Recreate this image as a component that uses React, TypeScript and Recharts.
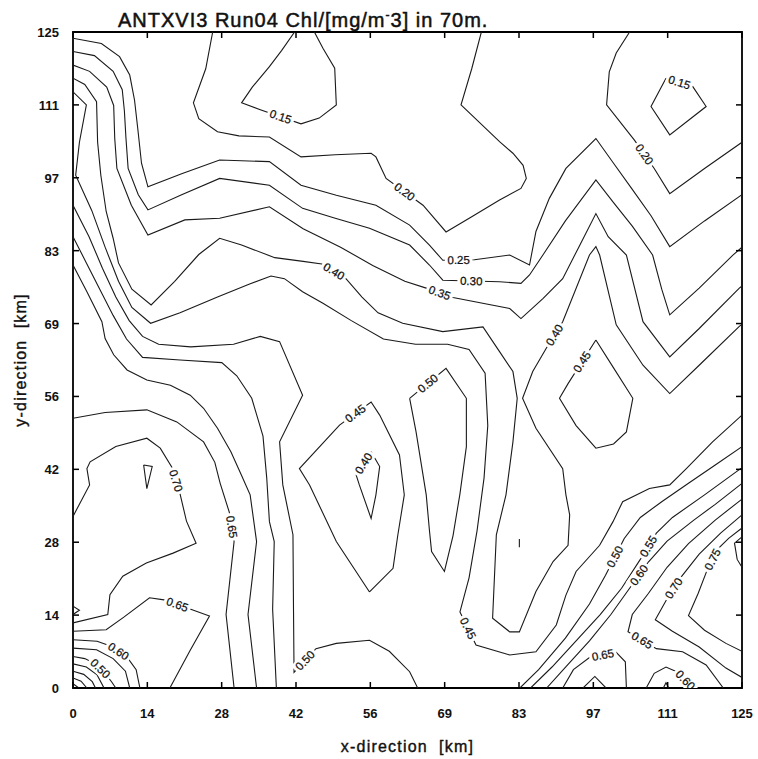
import React from 'react';
import { ScatterChart, Scatter, XAxis, YAxis, ReferenceArea } from 'recharts';

type Pt = [number, number];

const TICK_LABELS = ['0', '14', '28', '42', '56', '69', '83', '97', '111', '125'];
const TICK_VALUES = TICK_LABELS.map((_, i) => (i * 125) / 9);

// contour polylines, [x km, y km]
const C015_TOP: Pt[] = [[41.4,125],[39,121.5],[36.7,118.4],[33.5,114.5],[31.5,111.5],[35,110.2],[42.6,107.5],[46,108.6],[49.2,111.1],[48.9,118.1],[46.7,121.9],[45.1,125]];
const C015_RIGHT: Pt[] = [[110.8,116.2],[115.8,114.6],[118.3,110.8],[111.5,105.4],[108,110.8],[110.8,116.2]];
const C020_MAIN: Pt[] = [[26.1,125],[24.8,118],[22.5,111.5],[23.5,108.5],[27,106],[31,105.2],[36.7,105],[42.6,101.2],[49,101.6],[55.7,101.9],[56.6,101.2],[58.5,97.1],[65.4,92],[69.7,86.9],[74.5,89.8],[79.7,93],[83.7,95.2],[84.7,97.1],[84.1,99.6],[82.2,101.9],[79.7,104.1],[72.5,111.1],[74.5,118],[76.3,125]];
const C020_RIGHT: Pt[] = [[104,125],[101.5,121],[100.2,117.4],[99.7,111.1],[104.9,104.4],[108.6,99],[111.5,94.2],[118,99],[125,104]];
const C025: Pt[] = [[0,123.8],[5.3,122.8],[8.7,120.3],[10.6,116.8],[11.5,112],[12.1,106.6],[12.8,100],[13.6,97],[14,95.5],[20.3,98],[27.4,100.6],[36.7,100.3],[42.6,95.8],[49.2,93.9],[56.6,92],[62.9,88.2],[66.6,84.4],[69.1,81.5],[75,81.6],[81.6,82.5],[85.3,80.6],[86.5,87],[89,93.3],[92.1,99],[97.7,104.7],[101,100],[104.5,95],[108,90],[111.5,84.1],[118,89],[125,94]];
const C030: Pt[] = [[0,121.3],[4,120.5],[7.5,117.5],[9.2,114],[9.6,110],[9.9,104.7],[10.3,99],[12.2,94],[14,91.1],[20.3,94],[27.4,97.1],[36.7,95.8],[42.9,91.4],[49,89.5],[55.4,87.6],[62.9,84.4],[66.6,80.6],[69.1,77.7],[79.7,77.4],[83.7,77.1],[85.3,78.7],[87.8,82.5],[92,89],[97.7,96.8],[101,92.5],[104.5,88],[108.3,82.5],[110,76],[111.5,71.1],[117,76.2],[123.3,82.5],[125,84]];
const C035: Pt[] = [[0,118.7],[3.1,117.5],[6.3,114.5],[7.6,111],[7.8,104.7],[8.2,99],[10.9,92],[14,86.3],[20.9,89.2],[27.4,89.5],[36.7,91.7],[43,87.5],[50,84],[56,80.5],[62,77.5],[66,76.2],[71,74.4],[81.6,72.3],[83.7,70.4],[87.8,74.2],[91.5,78],[94.5,84],[97.7,90.4],[100,86],[103.4,82.5],[106.5,69.8],[111.5,63.1],[117,68.5],[124.5,76.2],[125,76.6]];
const C040: Pt[] = [[0,116.2],[2.2,115],[4.4,111.7],[4.6,104],[5.2,97.7],[6.2,90.8],[7.5,85.7],[8.5,81],[11,76],[14.6,73],[19,77.5],[23.5,82.6],[27.4,85.7],[31.5,84.4],[37.7,82],[43,81.3],[46.5,80.8],[51,78],[54,74.5],[57,71.5],[61.6,69.5],[69.1,67.9],[76.6,68.8],[79.7,64.1],[82.2,60.3],[83,55.2],[82.2,46.9],[80.9,36.8],[79.1,29.2],[78.4,13.3],[81.6,10.7],[83.4,10.7],[86.5,18.4],[89.7,24.1],[92.5,27.2],[92.8,33],[92.1,36.8],[91.5,41.8],[86.5,49.5],[84,55.2],[85.9,60.3],[88.4,64.7],[91.5,69.8],[96.5,82.5],[97.7,84.1],[98.4,82.5],[101.5,69.2],[106.5,61.5],[111.5,56.1],[117,61.5],[124.5,68.9],[125,69.3]];
const C040_SMALL: Pt[] = [[55.7,45],[57.3,42.2],[56.6,36.8],[55.7,32.3],[53.5,38.7],[52.9,40.6],[55.7,45]];
const C045_LONG: Pt[] = [[0,113.6],[2.5,111.1],[1.2,104],[0.5,97.7],[3.5,91],[6,84],[8.5,77.5],[11,72.5],[14.5,69.5],[20,71.5],[27,74.5],[33,77],[37,78.5],[39.5,78],[42.9,75.5],[46.7,73.3],[52,70],[58,66.5],[64,65.5],[70,65.5],[74,64.5],[77,60],[77.5,50],[76.8,40],[75.5,30],[74,21],[72.3,14.5],[75.3,8.2],[81.6,6.3],[86.5,6.9],[90.3,12],[92.1,17.7],[94,22.2],[98.4,27.2],[100.9,31.7],[102.7,35.5],[107.7,38],[111.5,38.7],[114.6,41.8],[119.5,46.9],[125,52]];
const C045_MID: Pt[] = [[55.4,18.3],[49.2,27.9],[44.2,38.7],[42.3,41.8],[49.8,50.1],[55.7,54.5],[57.3,52],[61,44.4],[61.9,36.8],[60.7,29.2],[59.8,22.8],[55.4,18.3]];
const C045_RIGHT: Pt[] = [[97.7,66.3],[92.5,58],[90.9,55.2],[94,50],[97.7,45.7],[101,46.5],[103.4,48.8],[104.6,55.2],[101,61],[97.7,66.3]];
const C050_LOOP: Pt[] = [[62.9,55.2],[64.1,48.8],[66,36.8],[66.6,30],[67,26],[69.4,22.2],[71,29],[72.3,37],[73.5,46],[73.5,55.2],[69.7,60.9],[62.9,55.2]];
const C050_LEFT: Pt[] = [[0,92],[3,86],[5.5,80],[8,74.5],[10.5,70],[13,67],[16,65.5],[22,65],[30,65.5],[35,67],[38.6,66],[42.9,55.8],[38.6,46.9],[39.2,38.7],[41.1,29.2],[41.2,15],[41.3,3],[45.4,7.5],[49.2,8.5],[55.4,9.1],[59.1,7],[62.9,3.1],[64.4,0]];
const C055_LEFT: Pt[] = [[0,86],[2.5,81],[5,76],[7.5,71],[10,66.5],[13,63],[20,62.5],[27.8,62],[30.6,59.5],[33.4,55.2],[35.5,48],[36.2,40],[36.7,31.7],[37.6,27.9],[37.3,15],[38,0]];
const C060_LEFT: Pt[] = [[0,80.6],[2.6,75.5],[5.4,69.8],[6,66.6],[7.6,63.5],[10.1,60.6],[13.8,58.7],[18.2,57.7],[21.9,55.8],[24.4,53.3],[27,49.5],[29.5,45],[31.5,40.5],[33.1,36.8],[34.3,27.9],[32.7,14],[34.3,0]];
const C065_LEFT: Pt[] = [[0,51.4],[6,52.5],[13.8,53],[19.4,50.7],[24.4,46.9],[26.5,43],[27.5,39],[29.2,33.5],[30.1,27.9],[28.6,14],[30.1,0]];
const C070_LEFT: Pt[] = [[0,32.7],[3.1,38.7],[2.6,41.8],[3.2,43.1],[8,46],[13.8,47.6],[16.3,45.7],[18.5,42],[20,37],[21.2,31.8],[23,27.6],[18.7,25.7],[13.7,23.8],[9.3,21.3],[6.9,17.8],[6.5,14],[0,12.4]];
const C075_EDGE: Pt[] = [[0,14],[1.2,14.8],[0,15.6]];
const C075_SMALL: Pt[] = [[13.2,42.5],[14.8,42.2],[13.8,38],[13.2,42.5]];
const C065_BL: Pt[] = [[0,10.8],[6.2,11.1],[9.5,13.5],[14.3,17.2],[17,16.8],[22,15],[25.5,13.7],[21.8,7],[18.1,0]];
const C060_CORNER: Pt[] = [[0,9.2],[4.5,8.9],[7,8],[10,6],[11.8,3.5],[12.5,0]];
const C055_CORNER: Pt[] = [[0,7.6],[4.4,7.3],[7.5,5.6],[9.8,3.2],[10.6,0]];
const C050_CORNER: Pt[] = [[0,6],[2.2,5.6],[4.2,4.6],[6,2.8],[7.2,1.2],[8,0]];
const C045_CORNER: Pt[] = [[0,4.6],[2.5,4],[4.5,2.5],[5.8,0]];
const C040_CORNER: Pt[] = [[0,3.2],[2,2.6],[3.6,1.2],[4.2,0]];
const C035_CORNER: Pt[] = [[0,1.9],[1.5,1.3],[2.6,0]];
const C030_CORNER: Pt[] = [[0,0.8],[1.1,0]];
const C035_TICK: Pt[] = [[83.4,26.8],[83.4,28.4]];
const C050_DIAG: Pt[] = [[83.5,0],[87,3.5],[92,9.5],[96.5,16],[99.5,21.5],[103,28.5],[106,32.5],[110,35.5],[115,39],[120,42.5],[125,46]];
const C055_DIAG: Pt[] = [[85.5,0],[89.5,4],[94,9],[98.5,14],[102.5,19],[106,24.5],[109,29.5],[112,32.5],[118,36.8],[125,42]];
const C060_DIAG: Pt[] = [[88.5,0],[92.5,4.5],[96.5,9],[100.5,14],[104,19],[107.5,24],[111,28],[116,32],[120,35],[125,39]];
const C065_DIAG: Pt[] = [[125,36],[120,32],[115,27.5],[111,23],[107.5,18],[104.5,14],[103.7,10.7],[109,7.5],[113.9,6.9],[118.3,4.4],[121.5,0]];
const C070_DIAG: Pt[] = [[125,33],[121,29.5],[117,25.5],[113.5,21],[111,17],[108.8,13],[112,10.8],[117,7.8],[122,3.8],[125,2]];
const C075_DIAG: Pt[] = [[125,30.5],[122.5,28.5],[120.5,26.5],[118.5,22.5],[116.8,18],[115,13.8],[118,11],[122,8.5],[125,7]];
const C080_EDGE: Pt[] = [[125,28.8],[123.6,27.6],[124.1,24.5],[125,23]];
const C065_BOTTOM: Pt[] = [[91.5,0],[93.5,3.5],[96.5,5.8],[101.5,6.8],[103.2,5],[103.4,0]];
const C070_BOTTOM: Pt[] = [[95.3,0],[97.5,2.2],[99.6,0]];
const C060_ARCH: Pt[] = [[107.1,0],[108.6,2.8],[110.8,4],[113,3],[115.8,0]];
const C055_TRI: Pt[] = [[110.3,0],[110.8,1],[111.3,0]];

const CONTOURS: Record<string, Pt[]> = {
  C015_TOP, C015_RIGHT, C020_MAIN, C020_RIGHT, C025, C030, C035, C040, C040_SMALL,
  C045_LONG, C045_MID, C045_RIGHT, C050_LOOP, C050_LEFT, C055_LEFT, C060_LEFT, C065_LEFT, C070_LEFT,
  C075_EDGE, C075_SMALL, C065_BL, C060_CORNER, C055_CORNER, C050_CORNER, C045_CORNER,
  C040_CORNER, C035_CORNER, C030_CORNER, C035_TICK, C050_DIAG, C055_DIAG, C060_DIAG,
  C065_DIAG, C070_DIAG, C075_DIAG, C080_EDGE, C065_BOTTOM, C070_BOTTOM, C060_ARCH, C055_TRI,
};

// label text placed on a segment of a contour
const LABEL_LINES = ['C015_TOP', 'C015_RIGHT', 'C020_MAIN', 'C020_RIGHT', 'C025', 'C030', 'C035', 'C040', 'C040', 'C040_SMALL', 'C045_MID', 'C045_LONG', 'C045_RIGHT', 'C050_LOOP', 'C050_LEFT', 'C065_LEFT', 'C070_LEFT', 'C065_BL', 'C060_CORNER', 'C050_CORNER', 'C050_DIAG', 'C055_DIAG', 'C060_DIAG', 'C065_DIAG', 'C070_DIAG', 'C075_DIAG', 'C065_BOTTOM', 'C060_ARCH'];
const LABEL_SEGS = [5, 0, 11, 4, 17, 17, 15, 16, 41, 5, 4, 26, 0, 10, 16, 7, 7, 4, 2, 2, 4, 5, 4, 6, 3, 2, 2, 3];
const LABEL_TEXTS = ['0.15', '0.15', '0.20', '0.20', '0.25', '0.30', '0.35', '0.40', '0.40', '0.40', '0.45', '0.45', '0.45', '0.50', '0.50', '0.65', '0.70', '0.65', '0.60', '0.50', '0.50', '0.55', '0.60', '0.65', '0.70', '0.75', '0.65', '0.60'];

// page-sized canvas, fixed to the top-left corner of the viewport
const W = 758;
const H = 759;
const PLOT_LEFT = 73;
const PLOT_RIGHT = 742;
const PLOT_TOP = 32;
const PLOT_BOTTOM = 688;
const KX = (PLOT_RIGHT - PLOT_LEFT) / 125;
const KY = (PLOT_BOTTOM - PLOT_TOP) / 125;
const FONT = '"Liberation Sans", Arial, Helvetica, sans-serif';

const labelData = LABEL_LINES.map((name, i) => {
  const pts = CONTOURS[name];
  const [x1, y1] = pts[LABEL_SEGS[i]];
  const [x2, y2] = pts[LABEL_SEGS[i] + 1];
  let angle = (Math.atan2(-(y2 - y1) * KY, (x2 - x1) * KX) * 180) / Math.PI;
  if (angle > 90) angle -= 180;
  if (angle < -90) angle += 180;
  return { x: (x1 + x2) / 2, y: (y1 + y2) / 2, text: LABEL_TEXTS[i], angle };
});

const NoDot = () => <g />;

const ContourLabel = (props: any) => {
  const { cx, cy, payload } = props;
  if (cx == null || cy == null) return <g />;
  const w = payload.text.length * 6.4 + 2;
  return (
    <g transform={`translate(${cx},${cy}) rotate(${payload.angle})`}>
      <rect x={-w / 2} y={-6.5} width={w} height={13} fill="#fff" />
      <text x={0} y={4} textAnchor="middle" fontSize={11.5} fontFamily={FONT} fill="#111" stroke="#111" strokeWidth={0.25}>
        {payload.text}
      </text>
    </g>
  );
};

const XTick = (props: any) => {
  const { x, index } = props;
  return (
    <g>
      <line x1={x} x2={x} y1={PLOT_BOTTOM} y2={PLOT_BOTTOM - 6} stroke="#000" strokeWidth={1.5} />
      <line x1={x} x2={x} y1={PLOT_TOP} y2={PLOT_TOP + 6} stroke="#000" strokeWidth={1.5} />
      <text x={x} y={PLOT_BOTTOM + 30} textAnchor="middle" fontSize={13} fontWeight="bold" fontFamily={FONT} fill="#111">
        {TICK_LABELS[index]}
      </text>
    </g>
  );
};

const YTick = (props: any) => {
  const { y, index } = props;
  return (
    <g>
      <line x1={PLOT_LEFT} x2={PLOT_LEFT + 6} y1={y} y2={y} stroke="#000" strokeWidth={1.5} />
      <line x1={PLOT_RIGHT} x2={PLOT_RIGHT - 6} y1={y} y2={y} stroke="#000" strokeWidth={1.5} />
      <text x={PLOT_LEFT - 14} y={y + 5} textAnchor="end" fontSize={13} fontWeight="bold" fontFamily={FONT} fill="#111">
        {TICK_LABELS[index]}
      </text>
    </g>
  );
};

export default function App() {
  return (
    <div style={{ position: 'fixed', left: 0, top: 0, width: W, height: H, background: '#fff' }}>
      <ScatterChart width={W} height={H} margin={{ top: PLOT_TOP, right: W - PLOT_RIGHT, bottom: 0, left: 0 }}>
        <XAxis
          dataKey="x"
          type="number"
          domain={[0, 125]}
          ticks={TICK_VALUES}
          interval={0}
          tick={<XTick />}
          tickLine={false}
          axisLine={false}
          height={H - PLOT_BOTTOM}
          allowDataOverflow
        />
        <YAxis
          dataKey="y"
          type="number"
          domain={[0, 125]}
          ticks={TICK_VALUES}
          interval={0}
          tick={<YTick />}
          tickLine={false}
          axisLine={false}
          width={PLOT_LEFT}
          allowDataOverflow
        />
        {Object.entries(CONTOURS).map(([name, pts]) => (
          <Scatter
            key={name}
            data={pts.map(([x, y]) => ({ x, y }))}
            line={{ stroke: '#1a1a1a', strokeWidth: 1.1 }}
            lineType="joint"
            shape={<NoDot />}
            isAnimationActive={false}
          />
        ))}
        <Scatter data={labelData} shape={<ContourLabel />} isAnimationActive={false} />
        <ReferenceArea x1={0} x2={125} y1={0} y2={125} fill="none" stroke="#000" strokeWidth={1.8} ifOverflow="visible" />
      </ScatterChart>
      <svg width={W} height={H} style={{ position: 'absolute', left: 0, top: 0, pointerEvents: 'none' }}>
        <text x={118} y={27} fontSize={20} letterSpacing={1} fontFamily={FONT} fill="#111" stroke="#111" strokeWidth={0.5}>
          ANTXVI3 Run04 Chl/[mg/m<tspan dy={-8} fontSize={12}>-</tspan><tspan dy={8}>3] in 70m.</tspan>
        </text>
        <text x={(PLOT_LEFT + PLOT_RIGHT) / 2} y={752} textAnchor="middle" fontSize={16} letterSpacing={1.2} fontFamily={FONT} fill="#111" stroke="#111" strokeWidth={0.4} style={{ whiteSpace: 'pre' }}>
          {'x-direction  [km]'}
        </text>
        <text
          transform={`translate(26, ${(PLOT_TOP + PLOT_BOTTOM) / 2}) rotate(-90)`}
          textAnchor="middle"
          fontSize={16}
          letterSpacing={1.2}
          fontFamily={FONT}
          fill="#111"
          stroke="#111"
          strokeWidth={0.4}
          style={{ whiteSpace: 'pre' }}
        >
          {'y-direction  [km]'}
        </text>
      </svg>
    </div>
  );
}
